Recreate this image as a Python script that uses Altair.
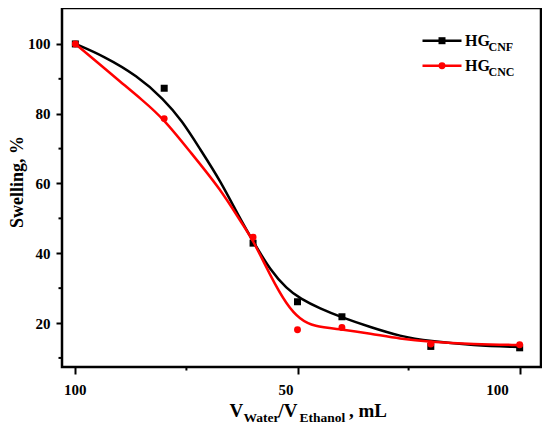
import altair as alt
import pandas as pd

# ---------------- data ----------------
x_pts = [0, 20, 40, 50, 60, 80, 100]
cnf_pts = [100, 87.3, 42.9, 26.1, 21.8, 13.3, 12.9]
cnc_pts = [100, 78.6, 44.6, 18.1, 18.7, 14.0, 13.8]

cnf_curve_x = [0, 6.4, 13.9, 19.9, 24.0, 28.1, 32.6, 37.1, 40.1, 43.9, 47.6, 50.6, 55.1, 59.8, 66.4, 73.1, 79.7, 89.6, 100]
cnf_curve_y = [100, 96.5, 90.9, 84.2, 78.0, 69.8, 60.9, 49.8, 43.2, 35.1, 29.8, 27.0, 24.1, 21.7, 18.8, 16.2, 14.8, 13.6, 13.1]
cnc_curve_x = [0, 5.0, 10.0, 15.0, 19.9, 26.0, 32.6, 37.5, 40.0, 43.9, 47.6, 50.6, 53.6, 59.8, 66.4, 73.1, 79.7, 89.6, 100]
cnc_curve_y = [100, 94.7, 89.3, 84.0, 78.5, 68.8, 58.5, 48.5, 43.8, 33.5, 25.1, 21.0, 19.0, 18.2, 17.0, 15.5, 14.6, 13.9, 13.7]

series_names = ["HG_CNF", "HG_CNC"]
series_colors = ["#000000", "#ff0000"]

x_tick_pos = [0, 47.4, 95.0]
x_tick_labels = ["100", "50", "100"]
x_minor = [25, 75]
y_major = [20, 40, 60, 80, 100]
y_minor = [10, 30, 50, 70, 90]

legend_main = ["HG", "HG"]
legend_sub = ["CNF", "CNC"]
x_title_parts = ["V", "Water", "/V", "Ethanol", ", mL"]
y_title = "Swelling, %"

FONT = "Liberation Serif"
W, H = 479, 359

xscale = alt.Scale(domain=[-3, 104.8], nice=False, zero=False)
yscale = alt.Scale(domain=[7.4, 110.3], nice=False, zero=False)
cscale = alt.Scale(domain=series_names, range=series_colors)

pts = pd.DataFrame({
    "x": x_pts * 2,
    "y": cnf_pts + cnc_pts,
    "s": [series_names[0]] * len(x_pts) + [series_names[1]] * len(x_pts),
})
cnf_curve = pd.DataFrame({"x": cnf_curve_x, "y": cnf_curve_y, "s": series_names[0]})
cnc_curve = pd.DataFrame({"x": cnc_curve_x, "y": cnc_curve_y, "s": series_names[1]})

xaxis = alt.Axis(values=[0, 50, 100], labels=False, title="", domain=False, grid=False,
                 ticks=True, tickSize=7, tickWidth=2, tickColor="black")
yaxis = alt.Axis(values=y_major, title="", domain=False, grid=False, ticks=True,
                 tickSize=6, tickWidth=2, tickColor="black", labelFont=FONT,
                 labelFontSize=15, labelFontWeight="bold", labelColor="black",
                 labelPadding=6)

X = alt.X("x:Q", scale=xscale, axis=xaxis)
Y = alt.Y("y:Q", scale=yscale, axis=yaxis)
C = alt.Color("s:N", scale=cscale, legend=None)

def curve(df):
    return alt.Chart(df).mark_line(interpolate="basis", strokeWidth=2.5).encode(x=X, y=Y, color=C)

black_line = curve(cnf_curve)
red_line = curve(cnc_curve)
black_pts = alt.Chart(pts[pts.s == series_names[0]]).mark_point(
    shape="square", filled=True, size=49, opacity=1).encode(x=X, y=Y, color=C)
red_pts = alt.Chart(pts[pts.s == series_names[1]]).mark_point(
    shape="circle", filled=True, size=48, opacity=1).encode(x=X, y=Y, color=C)

# minor ticks
ymin_df = pd.DataFrame({"y": y_minor})
ymin = alt.Chart(ymin_df).mark_rule(color="black", strokeWidth=2).encode(
    x=alt.value(-3.5), x2=alt.value(0), y=Y)
xmin_df = pd.DataFrame({"x": x_minor})
xmin = alt.Chart(xmin_df).mark_rule(color="black", strokeWidth=2).encode(
    x=X, y=alt.value(H), y2=alt.value(H + 3.5))

# x tick labels
xlab_df = pd.DataFrame({"x": x_tick_pos, "t": x_tick_labels})
xlab = alt.Chart(xlab_df).mark_text(font=FONT, fontSize=15, fontWeight="bold",
                                    baseline="middle", color="black").encode(
    x=X, y=alt.value(382), text="t:N")

one = pd.DataFrame({"a": [0]})

def txt(s, x, y, size, angle=0, align="left", baseline="alphabetic"):
    kw = dict(font=FONT, fontSize=size, fontWeight="bold", color="black",
              align=align, baseline=baseline)
    if angle:
        kw["angle"] = angle
    return alt.Chart(one).mark_text(**kw).encode(
        x=alt.value(x), y=alt.value(y), text=alt.value(s))

# x axis title with subscripts
xt = [
    txt(x_title_parts[0], 167.5, 408.5, 19),
    txt(x_title_parts[1], 181.5, 413.5, 13.5),
    txt(x_title_parts[2], 216.5, 408.5, 19),
    txt(x_title_parts[3], 237.5, 413.5, 13.5),
    txt(x_title_parts[4], 287, 408.5, 19),
]
yt = txt(y_title, -44, 174, 18, angle=270, align="center", baseline="middle")

# legend
leg = []
for i, (ly, shape) in enumerate([(32.7, "square"), (57.7, "circle")]):
    leg.append(alt.Chart(one).mark_rule(color=series_colors[i], strokeWidth=2.5).encode(
        x=alt.value(360.5), x2=alt.value(399.5), y=alt.value(ly)))
    leg.append(alt.Chart(one).mark_point(shape=shape, filled=True, opacity=1,
                                         size=49 if shape == "square" else 48,
                                         color=series_colors[i]).encode(
        x=alt.value(380), y=alt.value(ly)))
    leg.append(txt(legend_main[i], 403, ly + 5, 16))
    leg.append(txt(legend_sub[i], 426.5, ly + 10, 12))

chart = alt.layer(
    black_line, black_pts, red_line, red_pts, ymin, xmin, xlab, *xt, yt, *leg
).properties(
    width=W, height=H, autosize="none",
    padding={"left": 54, "top": 0, "right": 1, "bottom": 58},
).configure_view(stroke="black", strokeWidth=2.5)

chart.save("out.html", embed_options={"renderer": "svg", "actions": False})
